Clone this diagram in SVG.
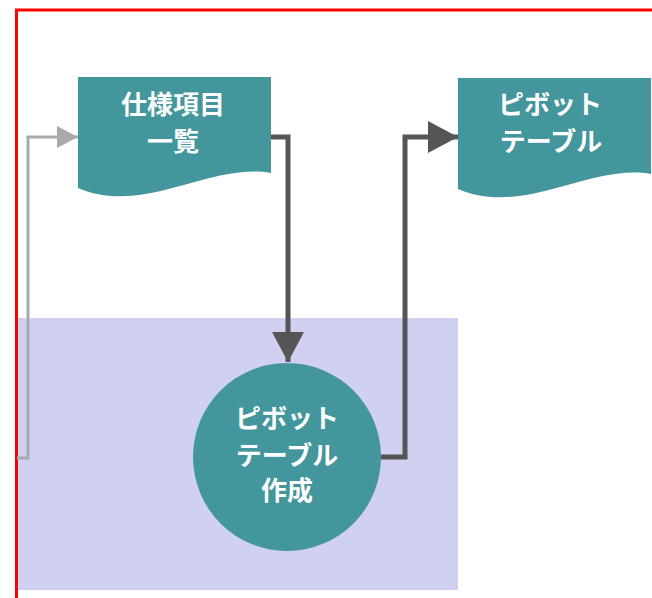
<svg xmlns="http://www.w3.org/2000/svg" width="652" height="598" viewBox="0 0 652 598">
  <defs>
    <style>
      .doc { fill: #43969B; }
      .lbl { fill: #FFFFFF; font-family: "Noto Sans CJK JP", "Noto Sans", sans-serif; font-weight: bold; font-size: 26px; text-anchor: middle; }
      .dark { fill: none; stroke: #555555; stroke-width: 5; }
      .light { fill: none; stroke: #AAAAAA; stroke-width: 3; }
    </style>
    <marker id="ahDark" markerUnits="userSpaceOnUse" markerWidth="32" markerHeight="32" refX="30" refY="16" orient="auto">
      <path d="M0,0 L30,16 L0,32 Z" fill="#555555"/>
    </marker>
    <marker id="ahLight" markerUnits="userSpaceOnUse" markerWidth="22" markerHeight="22" refX="21" refY="11" orient="auto">
      <path d="M0,0 L21,11 L0,22 Z" fill="#AAAAAA"/>
    </marker>
  </defs>
  <rect x="0" y="0" width="652" height="598" fill="#FFFFFF"/>
  <rect id="lane" x="17" y="318" width="441" height="272" fill="#D0D0F0"/>
  <path id="frame" d="M16.5,598 V10 H652" fill="none" stroke="#FF0000" stroke-width="3"/>

  <g id="connectors">
    <path class="light" d="M17,458 H28 V137 H78" marker-end="url(#ahLight)"/>
    <path class="dark" d="M271,137 H288 V362" marker-end="url(#ahDark)"/>
    <path class="dark" d="M380,457 H405 V137 H458" marker-end="url(#ahDark)"/>
  </g>

  <g id="spec-list">
    <path class="doc" d="M78,77 H271 V173 C245,168 215,176 180,186 C145,196 110,202 78,188 Z"/>
    <text class="lbl" x="173" y="114">仕様項目</text>
    <text class="lbl" x="173" y="151">一覧</text>
  </g>

  <g id="pivot-table">
    <path class="doc" d="M458,78 H651 V174 C625,169 595,177 560,187 C525,197 490,203 458,189 Z"/>
    <text class="lbl" x="550" y="114">ピボット</text>
    <text class="lbl" x="551" y="151">テーブル</text>
  </g>

  <g id="make-pivot">
    <circle cx="287" cy="457" r="94" fill="#43969B"/>
    <text class="lbl" x="287" y="428">ピボット</text>
    <text class="lbl" x="287" y="465">テーブル</text>
    <text class="lbl" x="287" y="500">作成</text>
  </g>
</svg>
